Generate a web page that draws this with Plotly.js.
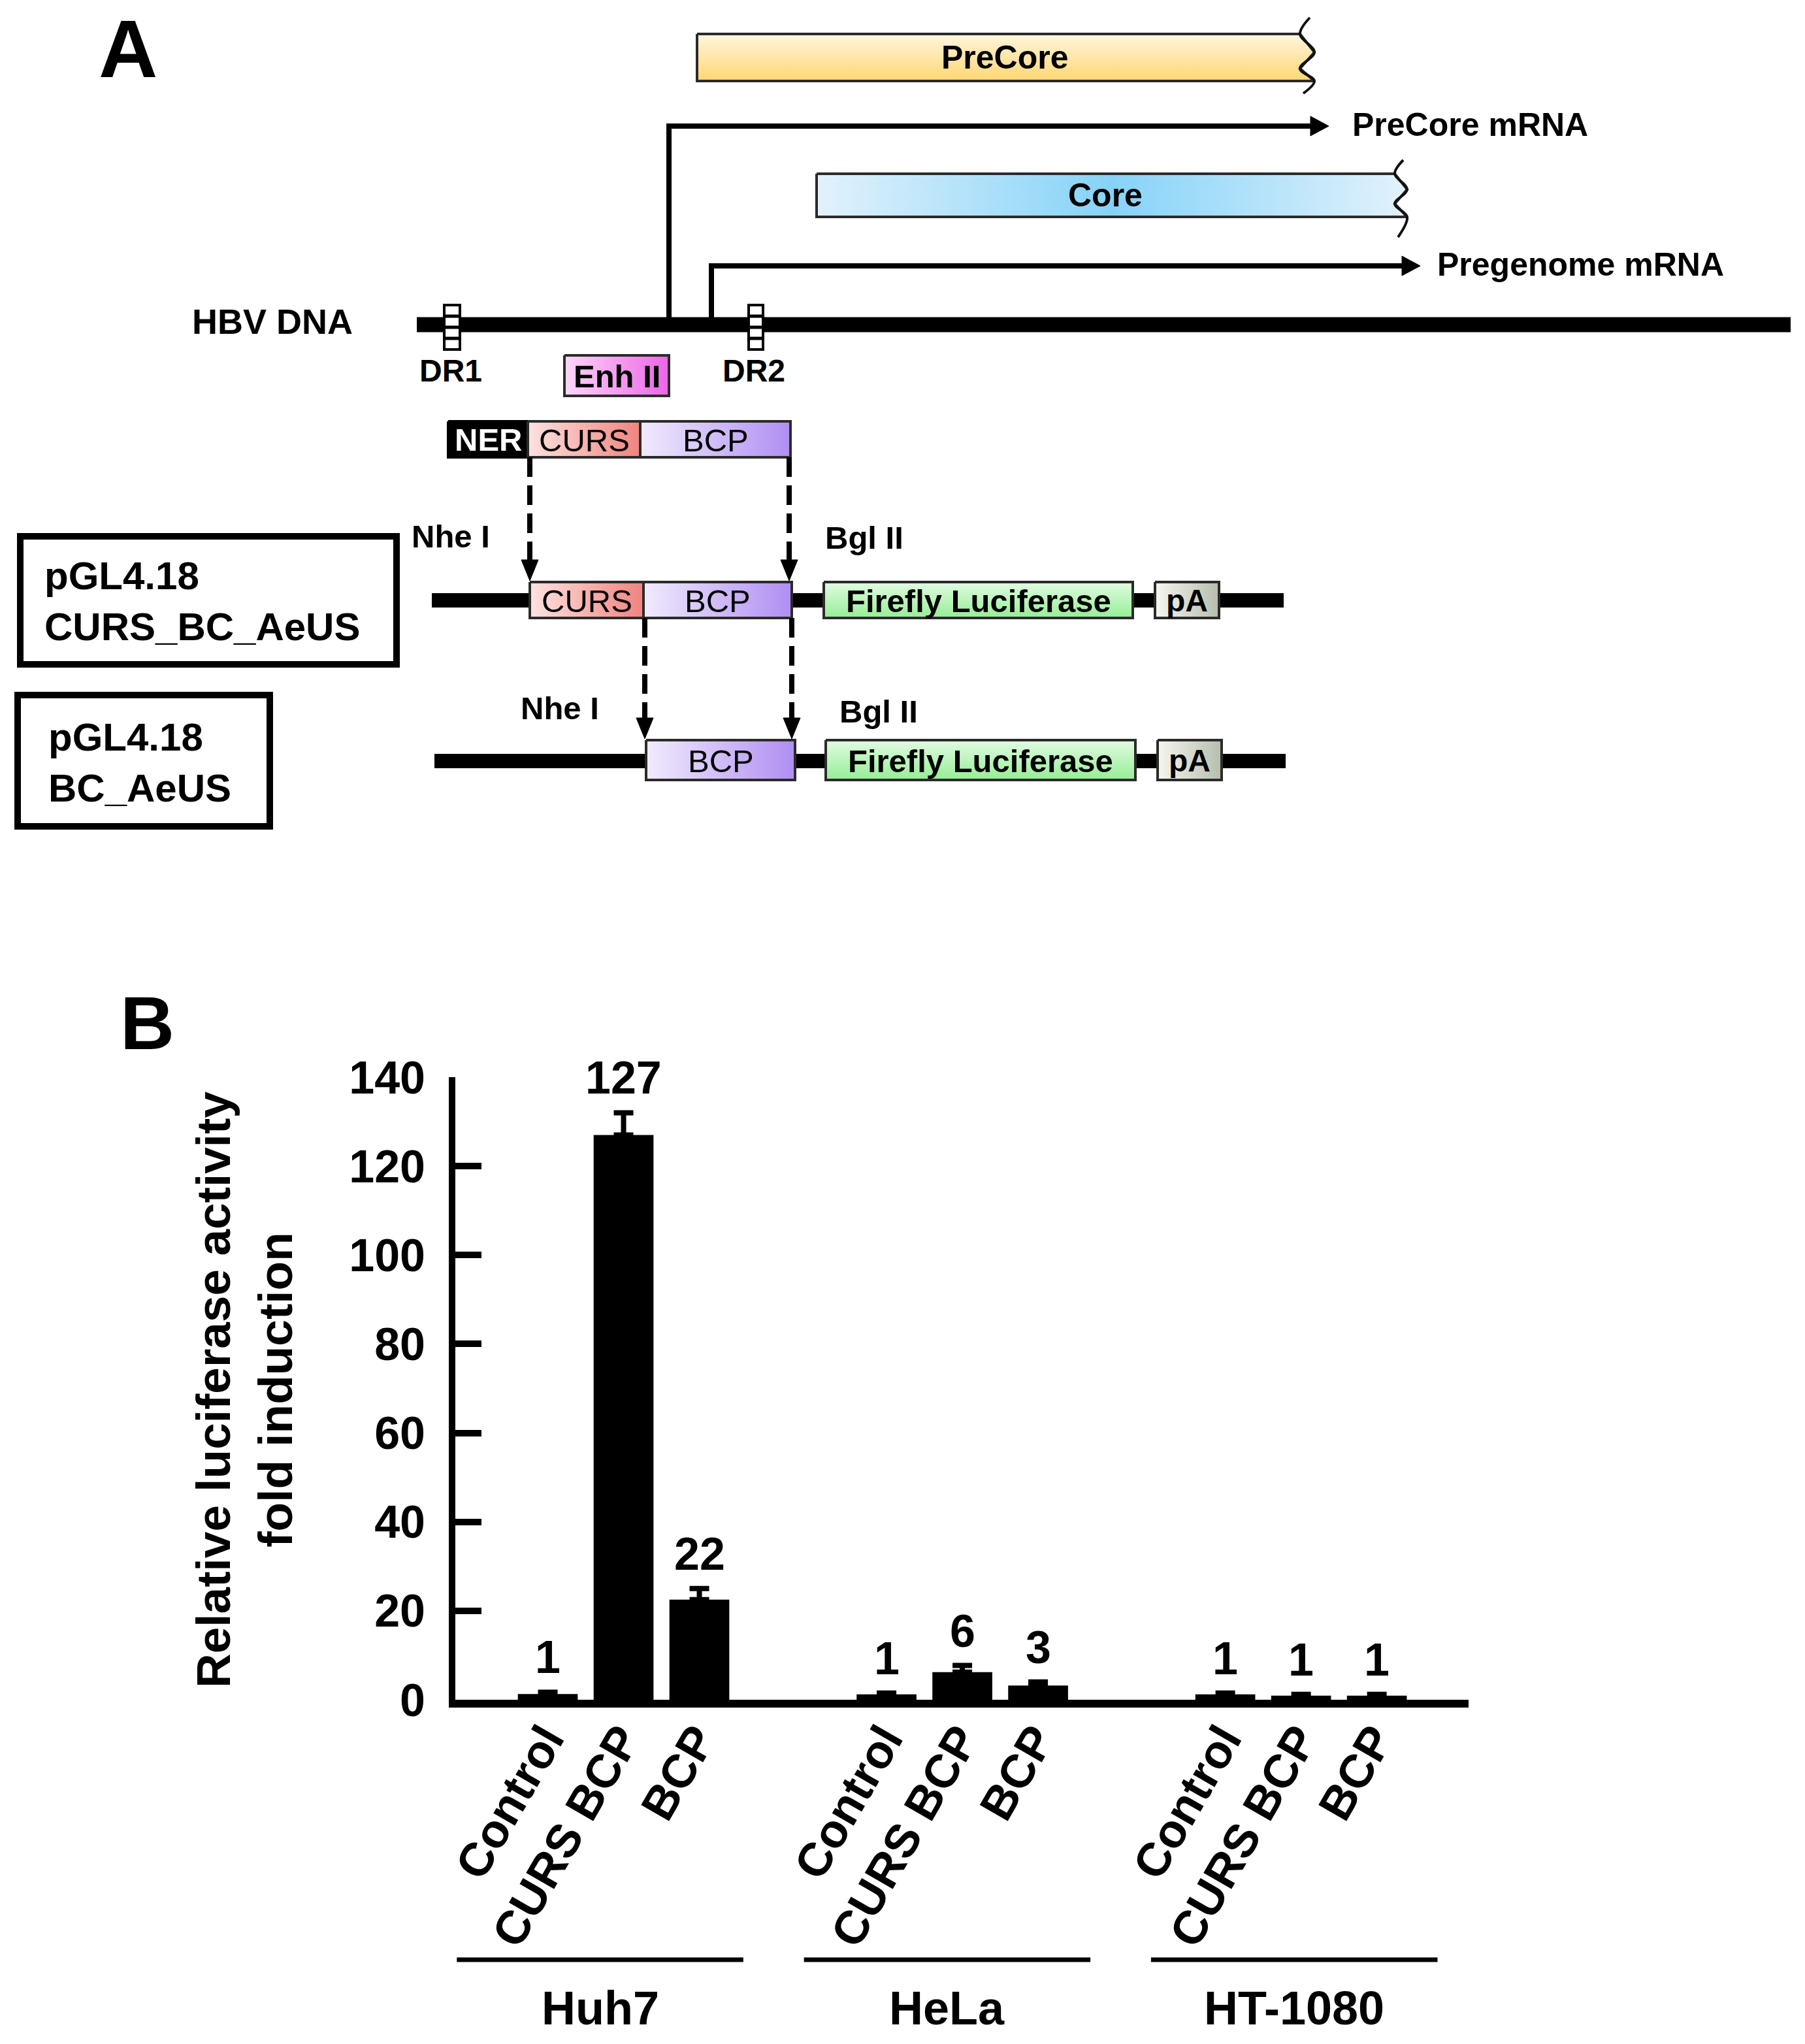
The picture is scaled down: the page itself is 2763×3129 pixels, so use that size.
<!DOCTYPE html>
<html>
<head>
<meta charset="utf-8">
<script src="https://cdn.plot.ly/plotly-3.0.1.min.js"></script>
<style>
  html, body { margin: 0; padding: 0; background: #fff; }
  #graph { width: 2763px; height: 3129px; }
</style>
</head>
<body>
<div id="graph"></div>
<script>
document.addEventListener('DOMContentLoaded', main, false);

// ---------- panel B : luciferase assay ----------
var cellLines = ['Huh7', 'HeLa', 'HT-1080'];
var constructs = ['Control', 'CURS BCP', 'BCP'];
var huh7 = [1.3, 127, 22.5];
var hela = [1.2, 6.2, 3.2];
var ht1080 = [1.2, 0.9, 0.9];
var huh7Err = [0.4, 5, 2.5];
var helaErr = [0.3, 1.5, 0.8];
var ht1080Err = [0.3, 0.3, 0.3];
var huh7Labels = ['1', '127', '22'];
var helaLabels = ['1', '6', '3'];
var ht1080Labels = ['1', '1', '1'];
var yTicks = [0, 20, 40, 60, 80, 100, 120, 140];

// ---------- panel A : HBV core promoter schematic ----------
// diagram units = pixels of the figure (x2 / y2 axes)
var FONT = 'Liberation Sans, Arial, sans-serif';

var gradPreCore = [[0, '#ffd672'], [1, '#fff6de']];
var gradCore = [[0, '#e2f2fc'], [0.5, '#86d3f8'], [1, '#e2f2fc']];
var gradEnh = [[0, '#fcd6f8'], [1, '#ec66e6']];
var gradCurs = [[0, '#fde2e0'], [1, '#f0847e']];
var gradBcp = [[0, '#f1ebfd'], [1, '#b08ef2']];
var gradFluc = [[0, '#95ee95'], [1, '#e2fbe2']];
var gradPA = [[0, '#f6f6f0'], [1, '#b5bfac']];

// [label, x0, x1, y0, y1, gradient, direction]
var blocks = [
  ['Enh II', 864, 1024, 544, 606, gradEnh, 'horizontal'],
  ['CURS', 808, 980, 645, 700, gradCurs, 'horizontal'],
  ['BCP', 980, 1210, 645, 700, gradBcp, 'horizontal'],
  ['CURS', 811, 985, 891, 946, gradCurs, 'horizontal'],
  ['BCP', 985, 1212, 891, 946, gradBcp, 'horizontal'],
  ['Firefly Luciferase', 1261, 1734, 891, 946, gradFluc, 'vertical'],
  ['pA', 1768, 1866, 891, 946, gradPA, 'horizontal'],
  ['BCP', 989, 1217, 1133, 1194, gradBcp, 'horizontal'],
  ['Firefly Luciferase', 1264, 1738, 1133, 1194, gradFluc, 'vertical'],
  ['pA', 1772, 1870, 1133, 1194, gradPA, 'horizontal']
];

// open reading frames with broken right end
var preCoreEdge = [[2005, 27], [1990, 52], [2012, 80], [1990, 105], [2012, 124], [1995, 143]];
var coreEdge = [[2148, 245], [2135, 266], [2154, 290], [2135, 312], [2154, 332], [2140, 363]];

function gradBox(x0, x1, y0, y1, scale, dir) {
  return {
    x: [x0, x1, x1, x0, x0], y: [y0, y0, y1, y1, y0],
    xaxis: 'x2', yaxis: 'y2', mode: 'lines', fill: 'toself',
    fillgradient: {type: dir, colorscale: scale},
    line: {color: '#2b2b2b', width: 4},
    hoverinfo: 'skip', showlegend: false
  };
}

function orfBox(x0, edge, scale, dir) {
  var inner = edge.slice(1, edge.length - 1);
  var xs = [x0], ys = [inner[0][1]];
  inner.forEach(function (p) { xs.push(p[0]); ys.push(p[1]); });
  xs.push(x0); ys.push(inner[inner.length - 1][1]);
  xs.push(x0); ys.push(inner[0][1]);
  return {
    x: xs, y: ys, xaxis: 'x2', yaxis: 'y2', mode: 'lines', fill: 'toself',
    fillgradient: {type: dir, colorscale: scale},
    line: {color: '#2b2b2b', width: 4},
    hoverinfo: 'skip', showlegend: false
  };
}

function edgeLine(edge) {
  return {
    x: edge.map(function (p) { return p[0]; }),
    y: edge.map(function (p) { return p[1]; }),
    xaxis: 'x2', yaxis: 'y2', mode: 'lines',
    line: {color: '#111', width: 4, shape: 'spline'},
    hoverinfo: 'skip', showlegend: false
  };
}

function txt(text, x, y, size, opts) {
  opts = opts || {};
  return {
    text: text, x: x, y: y, xref: 'x2', yref: 'y2', showarrow: false,
    xanchor: opts.xanchor || 'center', yanchor: 'middle', align: opts.align || 'center',
    font: {family: FONT, size: size, color: opts.color || '#000', weight: opts.weight || 'bold'}
  };
}

function hline(x0, x1, y, w) {
  return {type: 'line', xref: 'x2', yref: 'y2', x0: x0, x1: x1, y0: y, y1: y,
    line: {color: '#000', width: w}, layer: 'below'};
}

function tri(path) {
  return {type: 'path', xref: 'x2', yref: 'y2', path: path,
    fillcolor: '#000', line: {color: '#000', width: 1}};
}

function dashArrow(x, y0, y1) {
  return [
    {type: 'line', xref: 'x2', yref: 'y2', x0: x, x1: x, y0: y0, y1: y1 - 30,
      line: {color: '#000', width: 8, dash: '30px,13px'}},
    tri('M ' + (x - 13) + ' ' + (y1 - 32) + ' L ' + (x + 13) + ' ' + (y1 - 32) + ' L ' + x + ' ' + y1 + ' Z')
  ];
}

function drBox(x0, x1, y0, y1) {
  var s = [{type: 'rect', xref: 'x2', yref: 'y2', x0: x0, x1: x1, y0: y0, y1: y1,
    fillcolor: '#fff', line: {color: '#000', width: 4}}];
  var h = (y1 - y0) / 4;
  for (var k = 1; k < 4; k++) {
    s.push({type: 'line', xref: 'x2', yref: 'y2', x0: x0, x1: x1, y0: y0 + k * h, y1: y0 + k * h,
      line: {color: '#000', width: 5}});
  }
  return s;
}

function main() {
  var step = 4.47;       // bar group spacing (x units)
  var labelStep = 4.58;  // spacing of the cell-line underlines
  var series = [huh7, hela, ht1080];
  var errs = [huh7Err, helaErr, ht1080Err];
  var labels = [huh7Labels, helaLabels, ht1080Labels];

  var data = [];
  var tickvals = [], ticktext = [];
  var annotations = [];
  var shapes = [];

  // ----- bars -----
  cellLines.forEach(function (cl, g) {
    var xs = constructs.map(function (c, i) { return g * step + i; });
    data.push({
      type: 'bar', x: xs, y: series[g], name: cl, width: 0.79,
      marker: {color: '#000', line: {width: 0}},
      error_y: {type: 'data', array: errs[g], symmetric: false,
        arrayminus: errs[g].map(function () { return 0; }),
        color: '#000', thickness: 8, width: 15},
      hoverinfo: 'x+y', showlegend: false
    });
    xs.forEach(function (x, i) {
      tickvals.push(x);
      ticktext.push(constructs[i]);
      annotations.push({
        x: x, y: series[g][i] + errs[g][i], xref: 'x', yref: 'y',
        text: labels[g][i], showarrow: false, xanchor: 'center', yanchor: 'bottom', yshift: 12,
        font: {family: FONT, size: 70, color: '#000', weight: 'bold'}
      });
    });
    // group underline + cell line name
    var lx = g * labelStep;
    shapes.push({type: 'line', xref: 'x', yref: 'paper',
      x0: lx - 1.2, x1: lx + 2.58, y0: 1 - 3000 / 3129, y1: 1 - 3000 / 3129,
      line: {color: '#000', width: 7}});
    annotations.push({x: lx + 0.69, y: 1 - 3074 / 3129, xref: 'x', yref: 'paper',
      text: cl, showarrow: false, xanchor: 'center', yanchor: 'middle',
      font: {family: FONT, size: 72, color: '#000', weight: 'bold'}});
  });

  annotations.push({
    x: 374 / 2763, y: 1 - 2128 / 3129, xref: 'paper', yref: 'paper', textangle: -90,
    xanchor: 'center', yanchor: 'middle',
    text: 'Relative luciferase activity<br>fold induction', showarrow: false,
    font: {family: FONT, size: 73, color: '#000', weight: 'bold'}
  });
  annotations.push({x: 226 / 2763, y: 1 - 1566 / 3129, xref: 'paper', yref: 'paper',
    xanchor: 'center', yanchor: 'middle',
    text: 'B', showarrow: false, font: {family: FONT, size: 115, color: '#000', weight: 'bold'}});
  annotations.push({x: 196 / 2763, y: 1 - 74 / 3129, xref: 'paper', yref: 'paper',
    xanchor: 'center', yanchor: 'middle',
    text: 'A', showarrow: false, font: {family: FONT, size: 125, color: '#000', weight: 'bold'}});

  // ----- schematic -----
  shapes.push(hline(638, 2741, 497, 23));
  shapes.push(hline(661, 1965, 919, 22));
  shapes.push(hline(665, 1968, 1165, 22));

  // transcripts
  shapes.push({type: 'path', xref: 'x2', yref: 'y2', layer: 'below',
    path: 'M 1024 500 L 1024 193 L 2012 193', fillcolor: 'rgba(0,0,0,0)',
    line: {color: '#000', width: 8}});
  shapes.push(tri('M 2006 178 L 2034 193 L 2006 208 Z'));
  shapes.push({type: 'path', xref: 'x2', yref: 'y2', layer: 'below',
    path: 'M 1089 500 L 1089 407 L 2152 407', fillcolor: 'rgba(0,0,0,0)',
    line: {color: '#000', width: 8}});
  shapes.push(tri('M 2146 392 L 2174 407 L 2146 422 Z'));

  shapes = shapes.concat(drBox(680, 704, 467, 535));
  shapes = shapes.concat(drBox(1146, 1168, 467, 535));

  shapes = shapes.concat(dashArrow(811, 700, 889));
  shapes = shapes.concat(dashArrow(1208, 700, 889));
  shapes = shapes.concat(dashArrow(987, 946, 1131));
  shapes = shapes.concat(dashArrow(1212, 946, 1131));

  // construct name boxes
  shapes.push({type: 'rect', xref: 'x2', yref: 'y2', x0: 31, x1: 607, y0: 821, y1: 1017,
    line: {color: '#000', width: 10}, fillcolor: 'rgba(0,0,0,0)'});
  shapes.push({type: 'rect', xref: 'x2', yref: 'y2', x0: 27, x1: 413, y0: 1064, y1: 1265,
    line: {color: '#000', width: 10}, fillcolor: 'rgba(0,0,0,0)'});

  // boxes
  data.push(orfBox(1067, preCoreEdge, gradPreCore, 'vertical'));
  data.push(edgeLine(preCoreEdge));
  data.push(orfBox(1250, coreEdge, gradCore, 'horizontal'));
  data.push(edgeLine(coreEdge));
  data.push({x: [686, 808, 808, 686, 686], y: [645, 645, 700, 700, 645], xaxis: 'x2', yaxis: 'y2',
    mode: 'lines', fill: 'toself', fillcolor: '#000', line: {color: '#000', width: 4},
    hoverinfo: 'skip', showlegend: false});
  blocks.forEach(function (b) {
    data.push(gradBox(b[1], b[2], b[3], b[4], b[5], b[6]));
    annotations.push(txt(b[0], (b[1] + b[2]) / 2, (b[3] + b[4]) / 2 + 1, b[0] === 'pA' ? 48 : 49,
      {weight: b[0] === 'CURS' || b[0] === 'BCP' ? 'normal' : 'bold'}));
  });

  annotations.push(txt('PreCore', 1538, 88, 50));
  annotations.push(txt('Core', 1692, 299, 50));
  annotations.push(txt('PreCore mRNA', 2068, 191, 50, {xanchor: 'left'}));
  annotations.push(txt('Pregenome mRNA', 2198, 405, 50, {xanchor: 'left'}));
  annotations.push(txt('HBV DNA', 417, 492, 54));
  annotations.push(txt('DR1', 690, 567, 48));
  annotations.push(txt('DR2', 1154, 567, 48));
  annotations.push(txt('NER', 747, 673, 49, {color: '#fff'}));
  annotations.push(txt('Nhe I', 690, 821, 49));
  annotations.push(txt('Bgl II', 1323, 823, 49));
  annotations.push(txt('Nhe I', 857, 1084, 49));
  annotations.push(txt('Bgl II', 1345, 1089, 49));
  annotations.push(txt('pGL4.18<br>CURS_BC_AeUS', 66, 920, 60, {xanchor: 'left', align: 'left'}));
  annotations.push(txt('pGL4.18<br>BC_AeUS', 72, 1167, 60, {xanchor: 'left', align: 'left'}));

  var layout = {
    width: 2763, height: 3129,
    margin: {l: 0, r: 0, t: 0, b: 0},
    paper_bgcolor: '#fff', plot_bgcolor: 'rgba(0,0,0,0)',
    showlegend: false,
    xaxis: {
      domain: [697 / 2763, 2248 / 2763], range: [-1.22, 12.15],
      showgrid: false, zeroline: false, showline: true, linecolor: '#000', linewidth: 12,
      ticks: '', tickvals: tickvals, ticktext: ticktext, tickangle: -60,
      ticklabelstandoff: -22, ticklabelshift: -4,
      tickfont: {family: FONT, size: 72, color: '#000', weight: 'bold'},
      fixedrange: true
    },
    yaxis: {
      domain: [1 - 2602 / 3129, 1 - 1649 / 3129], range: [0, 140],
      showgrid: false, zeroline: false, showline: true, linecolor: '#000', linewidth: 10,
      ticks: 'inside', ticklen: 40, tickwidth: 10, tickcolor: '#000',
      tickvals: yTicks, ticklabelstandoff: 22,
      tickfont: {family: FONT, size: 70, color: '#000', weight: 'bold'},
      fixedrange: true
    },
    xaxis2: {domain: [0, 1], range: [0, 2763], anchor: 'y2', visible: false, fixedrange: true},
    yaxis2: {domain: [0, 1], range: [3129, 0], anchor: 'x2', visible: false, fixedrange: true},
    shapes: shapes,
    annotations: annotations
  };

  Plotly.newPlot('graph', data, layout, {staticPlot: true});
}
</script>
</body>
</html>
